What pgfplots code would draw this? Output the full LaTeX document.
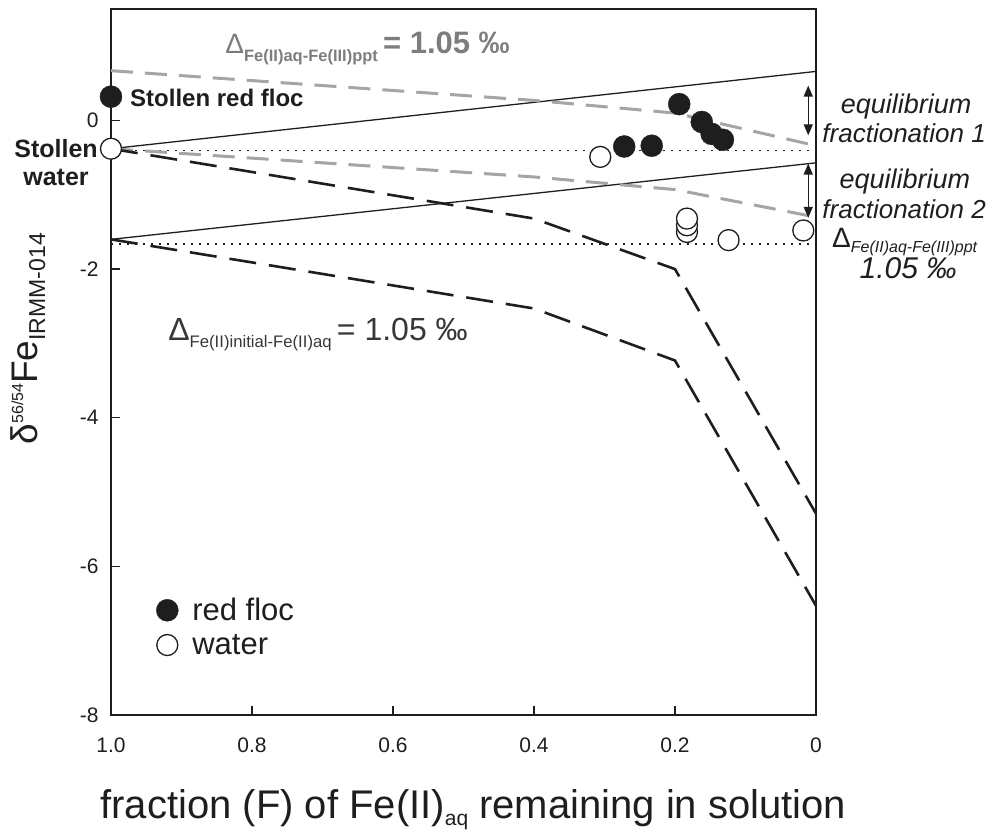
\documentclass[border=0pt]{standalone}
\usepackage{fontspec}
\setmainfont{Liberation Sans}
\usepackage{pgfplots}
\pgfplotsset{compat=1.18}
\usetikzlibrary{arrows.meta}
\definecolor{ink}{RGB}{30,30,30}
\definecolor{lgray}{RGB}{165,165,165}
\definecolor{tgray}{RGB}{125,125,125}
\definecolor{dgray}{RGB}{55,55,55}
\newcommand{\fs}[1]{\fontsize{#1}{#1}\selectfont}

\begin{document}
\begin{tikzpicture}
\begin{axis}[
  at={(0pt,0pt)}, anchor=south west,
  scale only axis, width=705pt, height=706pt,
  xmin=0, xmax=1, x dir=reverse,
  ymin=-8, ymax=1.5,
  clip=false,
  axis line style={line width=1.3pt, ink},
  tick align=inside, xtick pos=bottom, ytick pos=left,
  major tick length=9pt,
  tick style={line width=1.3pt, ink},
  xtick={0,0.2,0.4,0.6,0.8,1}, xticklabels={0,0.2,0.4,0.6,0.8,1.0},
  ytick={-8,-6,-4,-2,0}, yticklabels={-8,-6,-4,-2,0},
  tick label style={font=\fs{21}, text=ink},
  xticklabel style={yshift=-19pt},
  yticklabel style={xshift=-9pt},
  xlabel={fraction (F) of Fe(II)\raisebox{-7pt}{\fs{21}aq} remaining in solution},
  xlabel style={at={(axis description cs:0.514,0)}, anchor=base, yshift=-103pt, font=\fs{40}, text=ink},
  ylabel={\fs{37}δ\raisebox{14pt}{\fs{16}56/54}Fe\raisebox{-8pt}{\fs{23}IRMM-014}},
  ylabel style={at={(axis description cs:-0.118,0.533)}, anchor=center, text=ink},
  legend style={at={(axis cs:0.936,-6.40)}, anchor=north west, draw=none, fill=none,
    inner sep=0pt, font=\fs{31}, row sep=8pt, column sep=12pt, text=ink},
  legend cell align=left,
  legend image code/.code={\draw[#1] plot coordinates {(11pt,0pt)};
    \path[draw=none, fill=none] (0pt,0pt) rectangle (22pt,0pt);},
]
% equilibrium lines
\addplot[forget plot, ink, line width=1.3pt] coordinates {(1,-0.38) (0,0.66)};
\addplot[forget plot, ink, line width=1.3pt] coordinates {(1,-1.60) (0,-0.57)};
% starting values
\addplot[forget plot, ink, line width=1.4pt, dash pattern=on 1.6pt off 6.4pt] coordinates {(1,-0.40) (0,-0.40)};
\addplot[forget plot, ink, line width=1.4pt, dash pattern=on 1.6pt off 6.4pt] coordinates {(1,-1.66) (0,-1.66)};
% Rayleigh, Fe(II)aq - Fe(III)ppt
\addplot[forget plot, lgray, line width=3pt, dash pattern=on 22pt off 12pt] coordinates {(1,0.67) (0.4,0.27) (0.2,0.10) (0,-0.34)};
\addplot[forget plot, lgray, line width=3pt, dash pattern=on 22pt off 12pt] coordinates {(1,-0.38) (0.4,-0.76) (0.2,-0.93) (0,-1.30)};
% Rayleigh, Fe(II)initial - Fe(II)aq
\addplot[forget plot, ink, line width=2.6pt, dash pattern=on 27pt off 13pt] coordinates {(1,-0.38) (0.4,-1.32) (0.2,-2.00) (0,-5.29)};
\addplot[forget plot, ink, line width=2.6pt, dash pattern=on 27pt off 13pt] coordinates {(1,-1.60) (0.4,-2.53) (0.2,-3.23) (0,-6.53)};
% samples
\addplot[only marks, mark=*, mark size=11pt, mark options={fill=ink, draw=ink}] coordinates {
  (1.0,0.32) (0.194,0.22) (0.162,-0.02) (0.148,-0.18) (0.132,-0.26) (0.272,-0.35) (0.233,-0.34)};
\addlegendentry{red floc}
\addplot[only marks, mark=*, mark size=10.5pt, mark options={fill=white, draw=ink, line width=1.3pt}] coordinates {
  (1.0,-0.38) (0.306,-0.49) (0.183,-1.50) (0.183,-1.41) (0.183,-1.32) (0.124,-1.61) (0.018,-1.48)};
\addlegendentry{water}

% arrows
\draw[{Triangle[length=11pt,width=9pt]}-{Triangle[length=11pt,width=9pt]}, line width=1.3pt, ink] (axis cs:0.011,0.47) -- (axis cs:0.011,-0.20);
\draw[{Triangle[length=11pt,width=9pt]}-{Triangle[length=11pt,width=9pt]}, line width=1.3pt, ink] (axis cs:0.011,-0.58) -- (axis cs:0.011,-1.31);

% annotations
\node[anchor=base west, inner sep=0pt, text=tgray, font=\bfseries] at (axis cs:0.838,0.90)
  {{\mdseries\fs{28}Δ}\raisebox{-8pt}{\fs{16.5}Fe(II)aq-Fe(III)ppt}{\fs{31}\,= 1.05 ‰}};
\node[anchor=base west, inner sep=0pt, text=ink, font=\bfseries\fs{24}] at (axis cs:0.973,0.19) {Stollen red floc};
\node[anchor=base, inner sep=0pt, text=ink, font=\bfseries\fs{25}] at (axis cs:1.078,-0.498) {Stollen};
\node[anchor=base, inner sep=0pt, text=ink, font=\bfseries\fs{25}] at (axis cs:1.078,-0.875) {water};
\node[anchor=base west, inner sep=0pt, text=dgray] at (axis cs:0.919,-2.96)
  {{\fs{32}Δ}\raisebox{-7pt}{\fs{16.7}Fe(II)initial-Fe(II)aq}{\fs{32}\,= 1.05 ‰}};
\node[anchor=base, inner sep=0pt, text=ink, font=\itshape\fs{27}] at (axis cs:-0.128,0.094) {equilibrium};
\node[anchor=base, inner sep=0pt, text=ink, font=\itshape\fs{26}] at (axis cs:-0.125,-0.296) {fractionation 1};
\node[anchor=base, inner sep=0pt, text=ink, font=\itshape\fs{27}] at (axis cs:-0.126,-0.915) {equilibrium};
\node[anchor=base, inner sep=0pt, text=ink, font=\itshape\fs{26}] at (axis cs:-0.125,-1.319) {fractionation 2};
\node[anchor=base west, inner sep=0pt, text=ink] at (axis cs:-0.0227,-1.709)
  {{\fs{28}Δ}\raisebox{-5pt}{\itshape\fs{16}Fe(II)aq-Fe(III)ppt}};
\node[anchor=base, inner sep=0pt, text=ink, font=\itshape\fs{30}] at (axis cs:-0.1305,-2.127) {1.05 ‰};
\end{axis}
\pgfresetboundingbox
\path (-111pt,-117pt) rectangle (881pt,715pt);
\end{tikzpicture}
\end{document}
